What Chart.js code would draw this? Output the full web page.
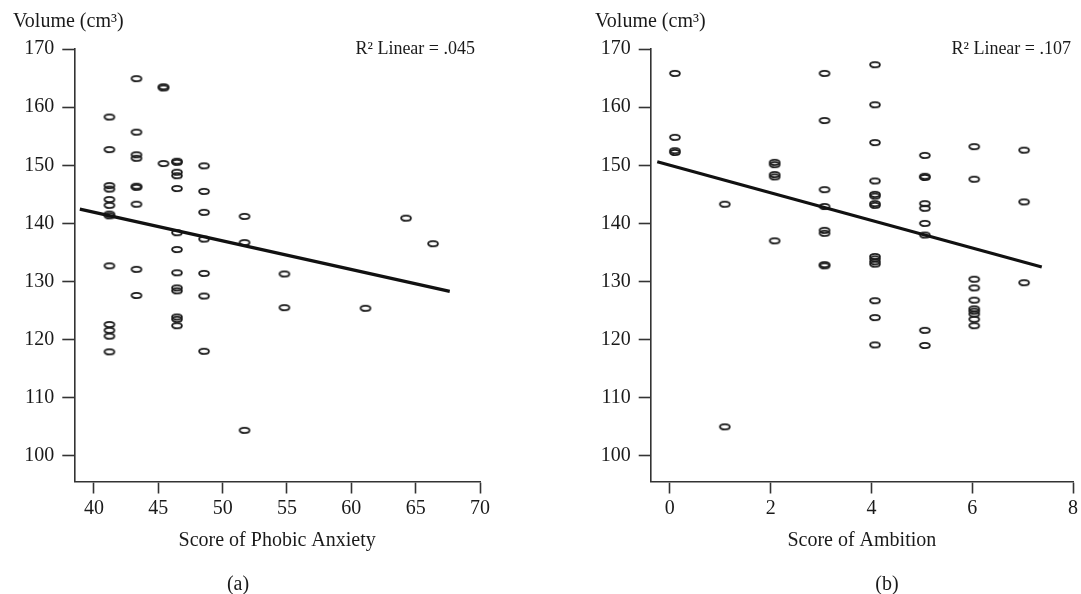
<!DOCTYPE html>
<html><head><meta charset="utf-8">
<script src="https://cdn.jsdelivr.net/npm/chart.js@4.4.1/dist/chart.umd.min.js"></script>
<style>
html,body{margin:0;padding:0;background:#fff;}
#fig{position:relative;width:1081px;height:594px;overflow:hidden;background:#fff;}
.panel{position:absolute;top:0;}
.cap{position:absolute;top:571px;width:60px;margin-left:-30px;text-align:center;font:20px "Liberation Serif",serif;color:#1a1a1a;line-height:24px;}
</style></head><body>
<div id="fig">
<canvas id="cA" class="panel" width="540" height="594" style="left:0"></canvas>
<canvas id="cB" class="panel" width="541" height="594" style="left:540px"></canvas>
<div class="cap" style="left:238px">(a)</div>
<div class="cap" style="left:887px">(b)</div>
</div>
<script>
// ---------- data ----------
const volumeTicks = [100, 110, 120, 130, 140, 150, 160, 170];
const anxietyTicks = [40, 45, 50, 55, 60, 65, 70];
const ambitionTicks = [0, 2, 4, 6, 8];

const anxietyScore = [
  41.2,41.2,41.2,41.2,41.2,41.2,41.2,41.2,41.2,41.2,41.2,41.2,41.2,
  43.3,43.3,43.3,43.3,43.3,43.3,43.3,43.3,43.3,
  45.4,45.4,45.4,
  46.45,46.45,46.45,46.45,46.45,46.45,46.45,46.45,46.45,46.45,46.45,46.45,46.45,
  48.55,48.55,48.55,48.55,48.55,48.55,48.55,
  51.7,51.7,51.7,
  54.8,54.8,
  61.1,
  64.25,
  66.35
];
const anxietyVolume = [
  158.3,152.7,146.5,145.9,144.1,143.1,141.6,141.3,132.7,122.6,121.6,120.6,117.9,
  164.9,155.7,151.8,151.2,146.4,146.2,143.3,132.1,127.6,
  163.5,163.3,150.3,
  150.7,150.5,148.8,148.2,146.0,138.4,135.5,131.5,128.9,128.4,123.9,123.5,122.4,
  149.9,145.5,141.9,137.3,131.4,127.5,118.0,
  141.2,136.7,104.4,
  131.3,125.5,
  125.4,
  140.9,
  136.5
];
const anxietyFitX = [38.9, 67.65];
const anxietyFitY = [142.45, 128.3];
const anxietyR2 = 'R\u00B2 Linear = .045';

const ambitionScore = [
  0.1,0.1,0.1,0.1,
  1.09,1.09,
  2.08,2.08,2.08,2.08,2.08,
  3.07,3.07,3.07,3.07,3.07,3.07,3.07,3.07,
  4.07,4.07,4.07,4.07,4.07,4.07,4.07,4.07,4.07,4.07,4.07,4.07,4.07,4.07,4.07,
  5.06,5.06,5.06,5.06,5.06,5.06,5.06,5.06,5.06,
  6.04,6.04,6.04,6.04,6.04,6.04,6.04,6.04,6.04,6.04,
  7.03,7.03,7.03
];
const ambitionVolume = [
  165.8,154.8,152.5,152.2,
  143.3,105.0,
  150.5,150.1,148.4,148.0,137.0,
  165.8,157.7,145.8,142.9,138.8,138.3,132.9,132.7,
  167.3,160.4,153.9,147.3,145.0,144.7,143.4,143.1,134.3,133.9,133.4,133.0,126.7,123.8,119.1,
  151.7,148.1,147.9,143.4,142.6,140.0,138.0,121.6,119.0,
  153.2,147.6,130.4,128.9,126.8,125.3,124.9,124.4,123.5,122.4,
  152.6,143.7,129.8
];
const ambitionFitX = [-0.25, 7.38];
const ambitionFitY = [150.6, 132.5];
const ambitionR2 = 'R\u00B2 Linear = .107';

const yTitle = 'Volume (cm\u00B3)';

// ---------- styling ----------
const FONT = '"Liberation Serif", "Times New Roman", serif';
const INK = '#1a1a1a';
const AXIS = '#333';

function ovalMarker() {
  const c = document.createElement('canvas');
  c.width = 14; c.height = 9;
  const g = c.getContext('2d');
  g.strokeStyle = '#1c1c1c';
  g.lineWidth = 1.8;
  g.beginPath();
  g.ellipse(7, 4.5, 4.9, 2.6, 0, 0, Math.PI * 2);
  g.stroke();
  return c;
}
const marker = ovalMarker();

const r2Plugin = {
  id: 'r2label',
  afterDraw(chart, args, opts) {
    const {ctx, chartArea} = chart;
    ctx.save();
    ctx.font = '18px ' + FONT;
    ctx.fillStyle = INK;
    ctx.textAlign = 'right';
    ctx.textBaseline = 'middle';
    ctx.fillText(opts.text, chartArea.right - opts.dx, chartArea.top);
    ctx.restore();
  }
};

function pts(xs, ys) { return xs.map((x, i) => ({x: x, y: ys[i]})); }

function makeChart(id, cfg) {
  return new Chart(document.getElementById(id), {
    type: 'scatter',
    data: {
      datasets: [
        {
          data: pts(cfg.fitX, cfg.fitY),
          showLine: true,
          borderColor: '#111',
          borderWidth: 3.2,
          pointRadius: 0,
          order: 0
        },
        {
          data: pts(cfg.xs, cfg.ys),
          pointStyle: marker,
          pointRadius: 5,
          order: 1
        }
      ]
    },
    options: {
      responsive: false,
      animation: false,
      events: [],
      layout: {padding: {left: cfg.padLeft, right: cfg.padRight, top: 0, bottom: 0}},
      plugins: {
        legend: {display: false},
        tooltip: {enabled: false},
        title: {
          display: true, text: yTitle, align: 'start', color: INK,
          font: {family: FONT, size: 20, weight: 'normal', lineHeight: 1.2},
          padding: {top: 10, bottom: 15}
        },
        r2label: {text: cfg.r2, dx: cfg.r2dx}
      },
      scales: {
        x: {
          type: 'linear', min: cfg.xMin, max: cfg.xMax,
          afterBuildTicks: s => { s.ticks = cfg.xTicks.map(v => ({value: v})); },
          afterFit: s => { s.height = 112.5; },
          grid: {drawOnChartArea: false, drawTicks: true, tickLength: 12, tickColor: AXIS, tickWidth: 1.6},
          border: {display: true, color: AXIS, width: 1.6},
          ticks: {color: INK, font: {family: FONT, size: 20}, padding: 3, maxRotation: 0, autoSkip: false},
          title: {display: true, text: cfg.xTitle, color: INK,
                  font: {family: FONT, size: 20, lineHeight: 1.2}, padding: {top: 0, bottom: 41}}
        },
        y: {
          type: 'linear', min: 95.6, max: 170,
          afterBuildTicks: s => { s.ticks = volumeTicks.map(v => ({value: v})); },
          afterFit: s => { s.width = cfg.yWidth; },
          grid: {drawOnChartArea: false, drawTicks: true, tickLength: 12, tickColor: AXIS, tickWidth: 1.6},
          border: {display: true, color: AXIS, width: 1.6},
          ticks: {color: INK, font: {family: FONT, size: 20}, padding: 8, autoSkip: false}
        }
      }
    },
    plugins: [r2Plugin]
  });
}

makeChart('cA', {
  xs: anxietyScore, ys: anxietyVolume, fitX: anxietyFitX, fitY: anxietyFitY,
  xMin: 38.47, xMax: 70, xTicks: anxietyTicks, xTitle: 'Score of Phobic Anxiety',
  r2: anxietyR2, r2dx: 5, padLeft: 13, padRight: 60, yWidth: 61.3
});
makeChart('cB', {
  xs: ambitionScore, ys: ambitionVolume, fitX: ambitionFitX, fitY: ambitionFitY,
  xMin: -0.38, xMax: 8, xTicks: ambitionTicks, xTitle: 'Score of Ambition',
  r2: ambitionR2, r2dx: 2, padLeft: 55, padRight: 6, yWidth: 55.7
});
</script>
</body></html>
